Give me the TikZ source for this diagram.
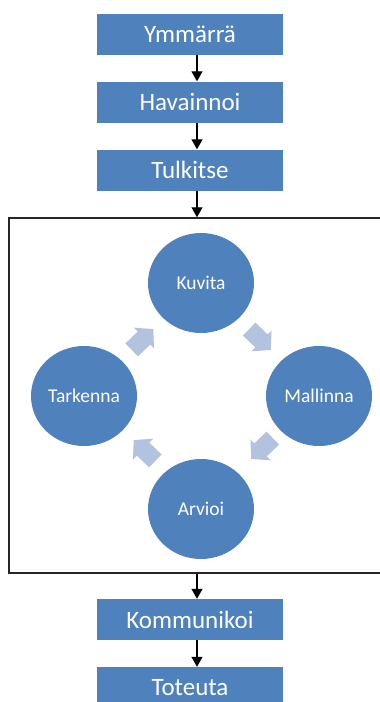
\documentclass[tikz,border=0pt]{standalone}
\usepackage{fontspec}
\setmainfont{Carlito}
\usetikzlibrary{arrows.meta,shapes.geometric,calc}
\definecolor{stepblue}{HTML}{4F81BD}
\definecolor{cyclearrowblue}{HTML}{B3C3DF}
\begin{document}
\begin{tikzpicture}[x=1pt,y=-1pt,
  stepbox/.style={rectangle, fill=stepblue, minimum width=186pt, minimum height=41pt,
    inner sep=0pt, text=white, font=\fontsize{25}{25}\selectfont},
  phase/.style={ellipse, fill=stepblue, minimum width=106pt, minimum height=100pt,
    inner sep=0pt, text=white, font=\fontsize{19.5}{19.5}\selectfont},
  cyclearrow/.style={fill=cyclearrowblue},
  loopframe/.style={rectangle, draw=black!85, line width=1.5pt, inner sep=0pt,
    minimum width=381pt, minimum height=355pt},
  flow/.style={draw=black, line width=1.3pt, -{Triangle[width=11pt,length=10pt]}}]
  \clip (0,0) rectangle (380,702);
  \fill[white] (0,0) rectangle (380,702);

  % axis of the vertical flow arrows
  \coordinate (ax) at (197,0);

  % linear steps before the cycle
  \node[stepbox] (ymm) at (190,34) {Ymmärrä};
  \node[stepbox] (hav) at (190,102) {Havainnoi};
  \node[stepbox] (tul) at (190,170) {Tulkitse};

  % frame holding the iterative cycle
  \node[loopframe] (loop) at (199.5,395.5) {};

  % cycle phases
  \node[phase] (kuv) at (201,283) {Kuvita};
  \node[phase] (mal) at (319,396) {Mallinna};
  \node[phase] (arv) at (201,509) {Arvioi};
  \node[phase] (tar) at (84,396) {Tarkenna};

  % block arrows between the phases
  \coordinate (c1) at ($(tar)!0.5!(kuv)$);
  \coordinate (c2) at ($(kuv)!0.5!(mal)$);
  \coordinate (c3) at ($(mal)!0.5!(arv)+(2,-4)$);
  \coordinate (c4) at ($(arv)!0.5!(tar)+(2,-2)$);
  \foreach \c/\a in {c1/44, c2/-44, c3/-136, c4/136}
    \fill[cyclearrow, shift={(\c)}, rotate=\a]
      (-15,-9) -- (2,-9) -- (2,-14.5) -- (15,0) -- (2,14.5) -- (2,9) -- (-15,9) -- cycle;

  % linear steps after the cycle
  \node[stepbox] (kom) at (190,619.5) {Kommunikoi};
  \node[stepbox] (tot) at (190,687.5) {Toteuta};

  % flow connectors
  \draw[flow] (ymm.south -| ax) -- (hav.north -| ax);
  \draw[flow] (hav.south -| ax) -- (tul.north -| ax);
  \draw[flow] (tul.south -| ax) -- (loop.north -| ax);
  \draw[flow] (loop.south -| ax) -- (kom.north -| ax);
  \draw[flow] (kom.south -| ax) -- (tot.north -| ax);
\end{tikzpicture}
\end{document}
